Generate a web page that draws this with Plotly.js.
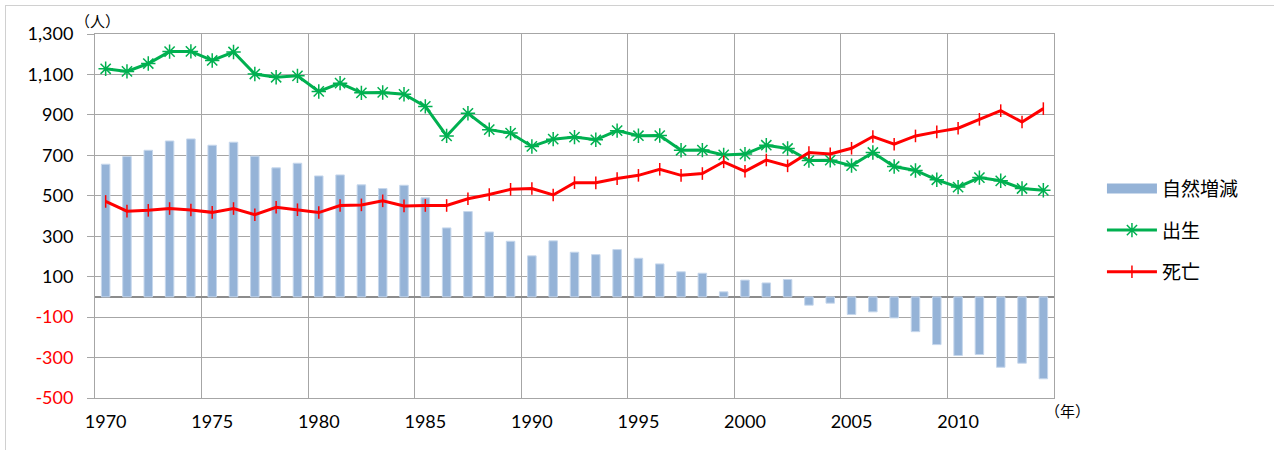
<!DOCTYPE html>
<html>
<head>
<meta charset="utf-8">
<script src="https://cdn.plot.ly/plotly-3.0.1.min.js"></script>
<style>
  body { margin: 0; background: #fff; }
  #frame { position: absolute; left: 5px; top: 5px; width: 1300px; height: 460px;
           border-left: 1.5px solid #d0d0d0; border-top: 1.5px solid #d0d0d0; pointer-events: none; }
  #chartBox { width: 1274px; height: 450px; }
</style>
</head>
<body>
<div id="chartBox"></div>
<div id="frame"></div>
<script>
// 年
const years = [
  1970, 1971, 1972, 1973, 1974, 1975, 1976, 1977, 1978, 1979,
  1980, 1981, 1982, 1983, 1984, 1985, 1986, 1987, 1988, 1989,
  1990, 1991, 1992, 1993, 1994, 1995, 1996, 1997, 1998, 1999,
  2000, 2001, 2002, 2003, 2004, 2005, 2006, 2007, 2008, 2009,
  2010, 2011, 2012, 2013, 2014
];

// 出生（人）
const births = [
  1128, 1115, 1154, 1213, 1214, 1169, 1211, 1102, 1086, 1093,
  1016, 1057, 1009, 1011, 1002, 942, 796, 908, 827, 810,
  744, 780, 790, 777, 822, 797, 798, 725, 726, 702,
  706, 750, 734, 674, 676, 649, 714, 645, 625, 579,
  543, 590, 574, 536, 527
];

// 死亡（人）
const deaths = [
  472, 424, 428, 437, 430, 418, 437, 406, 443, 431,
  417, 452, 455, 475, 450, 452, 452, 485, 506, 532,
  536, 504, 565, 564, 585, 601, 631, 601, 610, 668,
  621, 677, 648, 714, 707, 735, 793, 755, 796, 816,
  834, 878, 921, 865, 931
];

// 自然増減（人）
const natural = [
  656, 694, 725, 771, 781, 750, 765, 696, 638, 661,
  598, 603, 554, 536, 552, 490, 341, 422, 321, 275,
  203, 277, 221, 209, 234, 191, 163, 124, 117, 25,
  83, 69, 86, -41, -31, -87, -74, -104, -172, -236,
  -290, -285, -348, -328, -405
];

const xTickVals = [1970, 1975, 1980, 1985, 1990, 1995, 2000, 2005, 2010];
const yTickVals = [-500, -300, -100, 100, 300, 500, 700, 900, 1100, 1300];

const yTickText = yTickVals.map(v => {
  const s = v.toLocaleString('en-US');
  return v < 0 ? '<span style="color:#ff0000">' + s + '</span>' : s;
});
// 縦の目盛線は年の区切り（各5年の左端）
const xGrid = xTickVals.map(v => v - 0.5).concat([2014.5]);

const gridColor = '#a6a6a6';
const barColor = '#95b3d7';
const fontFamily = 'Lato, "Noto Sans CJK JP", sans-serif';

// 棒は下側の軸(x)、折れ線は重ねた軸(x2)に描いて線を棒の上に出す
const traceBar = {
  x: years, y: natural, type: 'bar', name: '自然増減',
  width: 0.4, showlegend: false,
  marker: { color: barColor, line: { color: '#c6d7ec', width: 1 } }
};
// 凡例用（横長の帯）
const traceBarLegend = {
  x: [null], y: [null], type: 'scatter', mode: 'lines', name: '自然増減',
  line: { color: barColor, width: 12 },
  legendgroup: 'a'
};
const traceBirth = {
  x: years, y: births, type: 'scatter', mode: 'lines+markers', name: '出生',
  xaxis: 'x2',
  line: { color: '#00b050', width: 3 },
  marker: { symbol: 'asterisk-open', size: 12, color: '#00b050', line: { color: '#00b050', width: 1.5 } },
  legendgroup: 'b'
};
const traceDeath = {
  x: years, y: deaths, type: 'scatter', mode: 'lines+markers', name: '死亡',
  xaxis: 'x2',
  line: { color: '#ff0000', width: 3 },
  marker: { symbol: 'line-ns-open', size: 9, color: '#ff0000', line: { color: '#ff0000', width: 1.5 } },
  legendgroup: 'c'
};

const layout = {
  width: 1274, height: 450,
  margin: { l: 95, r: 220, t: 34, b: 52 },
  paper_bgcolor: '#fff', plot_bgcolor: '#fff',
  font: { family: fontFamily, size: 18, color: '#000' },
  showlegend: true,
  legend: {
    x: 1.05, y: 0.46, xanchor: 'left', yanchor: 'middle',
    traceorder: 'grouped', tracegroupgap: 14, itemwidth: 50,
    font: { family: fontFamily, size: 19, color: '#000' }
  },
  xaxis: {
    range: [1969.5, 2014.5],
    tickmode: 'array', tickvals: xGrid, showticklabels: false, ticks: '',
    showgrid: true, gridcolor: gridColor, gridwidth: 1,
    showline: true, mirror: true, linecolor: gridColor, linewidth: 1,
    zeroline: false
  },
  xaxis2: {
    overlaying: 'x', side: 'bottom', anchor: 'y',
    range: [1969.5, 2014.5],
    tickmode: 'array', tickvals: xTickVals, ticks: '', showgrid: false,
    ticklabelstandoff: 11, zeroline: false, showline: false
  },
  yaxis: {
    range: [-500, 1300],
    tickmode: 'array', tickvals: yTickVals, ticktext: yTickText,
    ticks: 'outside', ticklen: 7, tickcolor: gridColor, tickwidth: 1,
    ticklabelstandoff: 10,
    showgrid: true, gridcolor: gridColor, gridwidth: 1,
    showline: true, mirror: true, linecolor: gridColor, linewidth: 1,
    zeroline: true, zerolinecolor: '#8c8c8c', zerolinewidth: 1.5
  },
  annotations: [
    { text: '（人）', xref: 'paper', yref: 'paper', x: 0.003, y: 1.035, xanchor: 'center', yanchor: 'middle',
      showarrow: false, font: { family: fontFamily, size: 15, color: '#000' } },
    { text: '（年）', xref: 'paper', yref: 'paper', x: 1.0136, y: -0.036, xanchor: 'center', yanchor: 'middle',
      showarrow: false, font: { family: fontFamily, size: 15, color: '#000' } }
  ]
};

Plotly.newPlot('chartBox', [traceBar, traceBarLegend, traceBirth, traceDeath], layout, { displayModeBar: false, staticPlot: true });
</script>
</body>
</html>
